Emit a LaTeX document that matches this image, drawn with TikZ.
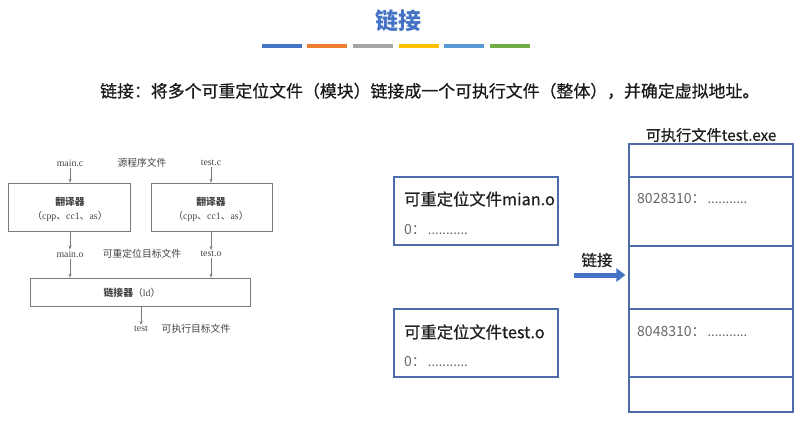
\documentclass[tikz,border=0pt]{standalone}
\usepackage{fontspec}
\setmainfont{Noto Sans CJK SC}
\newfontfamily\semib[FakeBold=0.6]{Noto Sans CJK SC}
\newfontfamily\serifl{Liberation Serif}
\usetikzlibrary{arrows.meta}
\definecolor{titleblue}{HTML}{4472C4}
\definecolor{barblue}{HTML}{4472C4}
\definecolor{barorange}{HTML}{ED7D31}
\definecolor{bargray}{HTML}{A5A5A5}
\definecolor{baryellow}{HTML}{FFC000}
\definecolor{barlight}{HTML}{5B9BD5}
\definecolor{bargreen}{HTML}{70AD47}
\definecolor{frameblue}{HTML}{4E6BAA}
\definecolor{oldgray}{HTML}{444444}
\definecolor{oldline}{HTML}{7A7A7A}
\definecolor{softgray}{HTML}{666666}
\tikzset{
  bar/.style={line width=4pt},
  oldbox/.style={draw=oldline, line width=0.6pt, inner sep=0pt},
  oldtext/.style={text=oldgray, font=\fontsize{9.8}{11}\selectfont, inner sep=1pt},
  oldarrow/.style={draw=oldline, line width=0.6pt, -{Stealth[length=4pt,width=3pt]}},
  objbox/.style={draw=frameblue, line width=1.1pt, minimum width=164pt, minimum height=68pt, inner sep=0pt},
  rowbox/.style={draw=frameblue, line width=1.1pt, minimum width=164pt, inner sep=0pt},
  head/.style={text=black!88, font=\fontsize{16.3}{18}\semib, anchor=west, inner sep=0pt},
  addr/.style={text=softgray, font=\fontsize{14}{16}\selectfont, anchor=west, inner sep=0pt},
  bigarrow/.style={draw=titleblue, line width=5pt, -{Triangle[length=9pt,width=13pt]}},
}
\newcommand{\dotrun}{{\fontsize{13}{14}\selectfont\hspace{2pt}...........}}
\begin{document}
\begin{tikzpicture}[x=1pt,y=-1pt]
\useasboundingbox (0,0) rectangle (802,423);

% heading and colour strip
\node[text=titleblue, font=\fontsize{23}{26}\selectfont\bfseries] (title) at (398,21) {链接};
\draw[bar, barblue]   (262,46) -- (302,46);
\draw[bar, barorange] (307,46) -- (347,46);
\draw[bar, bargray]   (353,46) -- (393,46);
\draw[bar, baryellow] (399,46) -- (439,46);
\draw[bar, barlight]  (444,46) -- (484,46);
\draw[bar, bargreen]  (490,46) -- (530,46);

\node[font=\fontsize{16.9}{18}\semib, text=black!90, anchor=west, inner sep=0pt] (intro) at (100,91)
  {链接：将多个可重定位文件（模块）链接成一个可执行文件（整体），并确定虚拟地址。};

% compile/link flow
\node[oldtext] (mainc) at (70,163) {\serifl main.c};
\node[oldtext] (srclbl) at (142,163) {源程序文件};
\node[oldtext] (testc) at (211,163) {\serifl test.c};
\node[oldbox, minimum width=122pt, minimum height=48pt] (tr1) at (69,207) {};
\node[oldbox, minimum width=121pt, minimum height=48pt] (tr2) at (211.5,207) {};
\node[oldtext, font=\fontsize{9.8}{11}\selectfont\bfseries] (tr1a) at (70,202) {翻译器};
\node[oldtext] (tr1b) at (70,216) {（\serifl cpp\rmfamily、\serifl cc1\rmfamily、\serifl as\rmfamily）};
\node[oldtext, font=\fontsize{9.8}{11}\selectfont\bfseries] (tr2a) at (211,202) {翻译器};
\node[oldtext] (tr2b) at (211,216) {（\serifl cpp\rmfamily、\serifl cc1\rmfamily、\serifl as\rmfamily）};
\node[oldtext] (maino) at (70,254) {\serifl main.o};
\node[oldtext] (objlbl) at (142,254) {可重定位目标文件};
\node[oldtext] (testo) at (211,254) {\serifl test.o};
\node[oldbox, minimum width=220pt, minimum height=28pt] (ld) at (140,292) {};
\node[oldtext] (ldlbl) at (132,293) {\textbf{链接器}（\serifl ld\rmfamily）};
\node[oldtext] (testexe) at (141,329) {\serifl test};
\node[oldtext] (exelbl) at (196,329) {可执行目标文件};

\draw[oldarrow] (mainc.south) -- (mainc.south |- tr1.north);
\draw[oldarrow] (testc.south) -- (testc.south |- tr2.north);
\draw[oldarrow] (tr1.south -| maino) -- (maino.north);
\draw[oldarrow] (tr2.south -| testo) -- (testo.north);
\draw[oldarrow] (maino.south) -- (maino.south |- ld.north);
\draw[oldarrow] (testo.south) -- (testo.south |- ld.north);
\draw[oldarrow] (ld.south -| testexe) -- (testexe.north);

% relocatable objects
\node[objbox] (objA) at (476,211) {};
\node[head] (objAh) at (404,199) {可重定位文件mian.o};
\node[addr] (objAa) at (404,230) {0：\dotrun};
\node[objbox] (objB) at (476,343) {};
\node[head] (objBh) at (404,332) {可重定位文件test.o};
\node[addr] (objBa) at (404,362) {0：\dotrun};

% executable layout
\node[text=black!88, font=\fontsize{15.2}{17}\semib, inner sep=0pt] (exeh) at (711,135) {可执行文件test.exe};
\node[rowbox, minimum height=33pt] (r1) at (711,160.5) {};
\node[rowbox, minimum height=69pt] (r2) at (711,211.5) {};
\node[rowbox, minimum height=63pt] (r3) at (711,277.5) {};
\node[rowbox, minimum height=68pt] (r4) at (711,343) {};
\node[rowbox, minimum height=35pt] (r5) at (711,394.5) {};
\node[addr] (r2a) at (637,199) {8028310：\dotrun};
\node[addr] (r4a) at (637,332) {8048310：\dotrun};

% link step
\node[text=black!88, font=\fontsize{15.5}{17}\semib, inner sep=0pt] (linklbl) at (597,260) {链接};
\coordinate (arrStart) at (574,275);
\draw[bigarrow, shorten >=3pt] (arrStart) -- (arrStart -| r3.west);
\end{tikzpicture}
\end{document}
